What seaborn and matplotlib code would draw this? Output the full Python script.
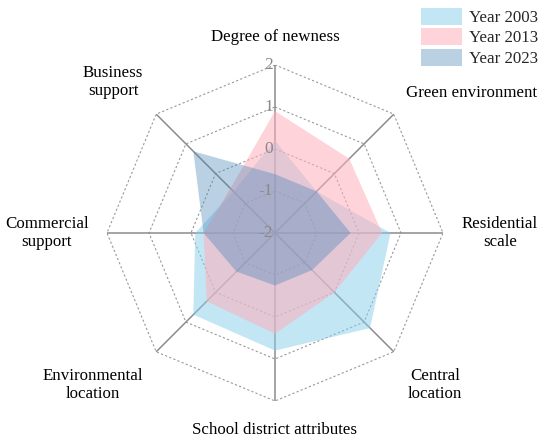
import numpy as np
import matplotlib
matplotlib.use("Agg")
import matplotlib.pyplot as plt
import seaborn as sns
from matplotlib.patches import Patch

categories = ["Degree of newness", "Green environment", "Residential\nscale",
              "Central\nlocation", "School district attributes",
              "Environmental\nlocation", "Commercial\nsupport", "Business\nsupport"]
series_names = ["Year 2003", "Year 2013", "Year 2023"]
year_2003 = [0.2, -0.6, 0.75, 1.2, 0.8, 0.75, -0.1, -0.6]
year_2013 = [0.9, 0.5, 0.55, 0.0, 0.4, 0.3, -0.3, -0.5]
year_2023 = [-0.6, -0.6, -0.2, -0.75, -0.75, -0.7, -0.3, 0.75]
r_ticks = [-2, -1, 0, 1, 2]
r_tick_labels = ["-2", "-1", "0", "1", "2"]

sns.set_theme(style="white")
plt.rcParams["font.family"] = ["Liberation Serif", "DejaVu Serif"]

fill_colors = ["#87CEEB", "#FFAFBC", "#4A86B8"]
alphas = [0.5, 0.55, 0.38]

fig = plt.figure(figsize=(5.5, 4.44), dpi=100)
ax = fig.add_axes([0.1945, 0.0968, 0.611, 0.757], projection="polar")
ax.set_theta_zero_location("N")
ax.set_theta_direction(-1)
ax.set_ylim(-2, 2)

n = len(categories)
theta = np.linspace(0, 2 * np.pi, n, endpoint=False)
theta_closed = np.append(theta, theta[0])

# grid octagons
for rv in r_ticks[1:]:
    ax.plot(theta_closed, [rv] * (n + 1), ls=(0, (2, 2)), lw=0.8, color="#999999", zorder=1)
# spokes
for t in theta:
    ax.plot([t, t], [-2, 2], color="#8c8c8c", lw=1.1, zorder=1)

for vals, c, a in zip([year_2003, year_2013, year_2023], fill_colors, alphas):
    v = np.append(vals, vals[0])
    ax.fill(theta_closed, v, color=c, alpha=a, lw=0, zorder=2)

ax.grid(False)
ax.spines["polar"].set_visible(False)
ax.set_xticks([])
ax.set_yticks([])

# radial tick labels along top spoke
for rv, lab in zip(r_ticks, r_tick_labels):
    ax.annotate(lab, xy=(0, rv), xytext=(-2, 0), textcoords="offset pixels",
                ha="right", va="center", fontsize=12.5, color="#8a8a8a", zorder=3)

offsets = [(0, 28), (78, 21), (57, 0), (41, -33), (0, -29), (-63, -33), (-60, 0), (-43, 32)]
for t, lab, off in zip(theta, categories, offsets):
    ax.annotate(lab, xy=(t, 2), xytext=off, textcoords="offset pixels",
                ha="center", va="center", fontsize=12.2, color="black",
                linespacing=1.2, annotation_clip=False)

handles = [Patch(facecolor=c, alpha=a, edgecolor="none") for c, a in zip(fill_colors, alphas)]
fig.legend(handles, series_names, loc="upper right", bbox_to_anchor=(0.985, 0.99),
           frameon=False, fontsize=12.2, handlelength=2.4, handleheight=1.15,
           labelspacing=0.14, handletextpad=0.45, borderaxespad=0.1, borderpad=0.1)

fig.savefig("out.png", dpi=100)
